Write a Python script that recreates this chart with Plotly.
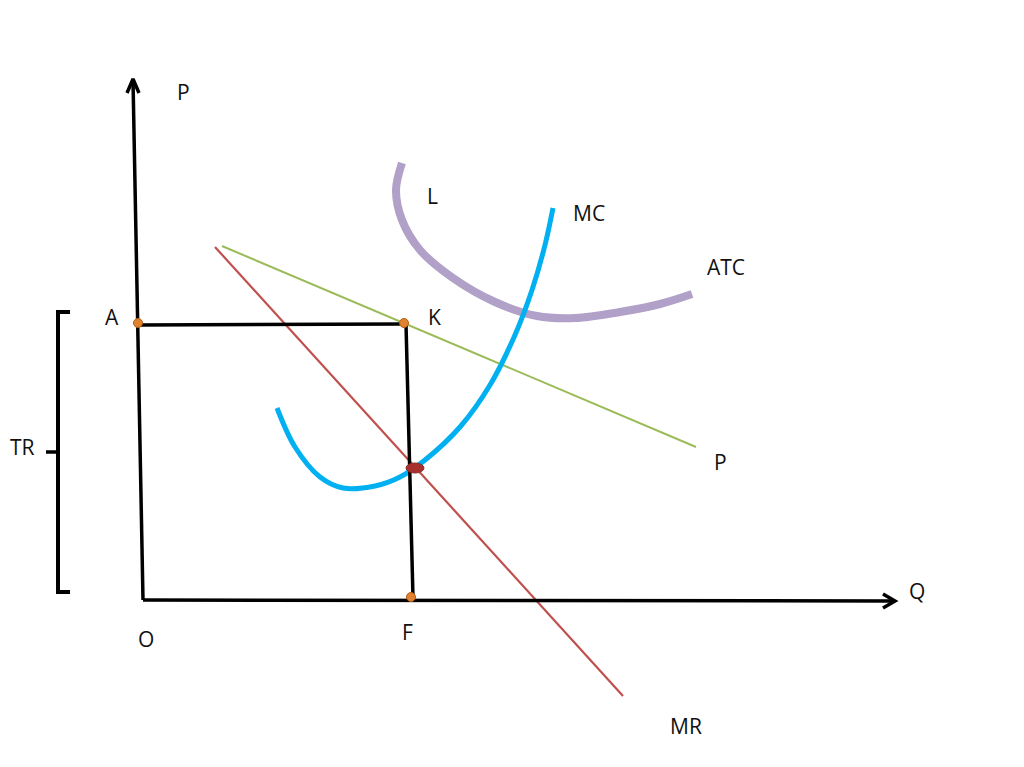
import plotly.graph_objects as go

# ---- data (diagram coordinates, screen-like units; y grows downward) ----
p_axis_x = [143, 133]
p_axis_y = [600, 80]
p_arrow_x = [127, 133, 139]
p_arrow_y = [93, 79, 93]

q_axis_x = [143, 894]
q_axis_y = [600, 601]
q_arrow_x = [883, 895, 883]
q_arrow_y = [594, 601, 608]

rect_top_x = [138, 404]
rect_top_y = [325, 324]
rect_right_x = [406, 413]
rect_right_y = [324, 598]

demand_x = [222, 696]
demand_y = [246, 447]

mr_x = [215, 623]
mr_y = [247, 696]

mc_x = [277, 295, 320, 343, 375, 400, 425, 460, 490, 515, 532, 545, 553]
mc_y = [408, 447, 477, 488, 486, 477, 460, 427, 385, 335, 290, 245, 208]

atc_x = [402, 396, 402, 420, 453, 495, 537, 575, 620, 660, 692]
atc_y = [163, 190, 220, 250, 278, 302, 316, 318, 312, 304, 294]

bracket_x = [70, 58, 58, 70]
bracket_y = [312, 312, 592, 592]
bracket_tick_x = [46, 58]
bracket_tick_y = [452, 452]

dots_x = [138, 404, 411]
dots_y = [323, 323, 597]
eq_x = [415]
eq_y = [468]

label_text = ["P", "L", "MC", "ATC", "A", "K", "TR", "P", "Q", "O", "F", "MR"]
label_x = [183, 432, 589, 726, 112, 434, 22, 720, 917, 146, 407, 686]
label_y = [92, 196, 213, 267, 317, 317, 447, 462, 591, 639, 632, 726]

fig = go.Figure()

def line(x, y, color, width, shape="linear"):
    fig.add_trace(go.Scatter(x=x, y=y, mode="lines",
                             line=dict(color=color, width=width, shape=shape),
                             hoverinfo="skip", showlegend=False))

line(demand_x, demand_y, "#9bbb59", 2)
line(mr_x, mr_y, "#c0504d", 2.2)
line(atc_x, atc_y, "#b1a0c7", 8, "spline")
line(mc_x, mc_y, "#00b0f0", 5, "spline")
line(p_axis_x, p_axis_y, "black", 3.5)
line(p_arrow_x, p_arrow_y, "black", 3.5)
line(q_axis_x, q_axis_y, "black", 3.5)
line(q_arrow_x, q_arrow_y, "black", 3.5)
line(rect_top_x, rect_top_y, "black", 3.5)
line(rect_right_x, rect_right_y, "black", 3.5)
line(bracket_x, bracket_y, "black", 4)
line(bracket_tick_x, bracket_tick_y, "black", 3.5)

fig.add_trace(go.Scatter(x=dots_x, y=dots_y, mode="markers",
                         marker=dict(color="#e0822f", size=9,
                                     line=dict(color="#b35d12", width=1)),
                         hoverinfo="skip", showlegend=False))

fig.add_shape(type="circle", xref="x", yref="y",
              x0=eq_x[0] - 9, x1=eq_x[0] + 9, y0=eq_y[0] - 5, y1=eq_y[0] + 5,
              fillcolor="#a8302c", line=dict(color="#8e2a27", width=1))

for t, x, y in zip(label_text, label_x, label_y):
    fig.add_annotation(x=x, y=y, text=t, showarrow=False,
                       xanchor="center", yanchor="middle",
                       font=dict(family="Open Sans, Lato, sans-serif", size=21, color="#111111"))

# page has an 8px body margin: shift the visible window accordingly
fig.update_xaxes(range=[8, 1024], visible=False)
fig.update_yaxes(range=[767, 8], visible=False)
fig.update_layout(width=1016, height=759, margin=dict(l=0, r=0, t=0, b=0),
                  plot_bgcolor="white", paper_bgcolor="white")

fig.write_html("out.html")
